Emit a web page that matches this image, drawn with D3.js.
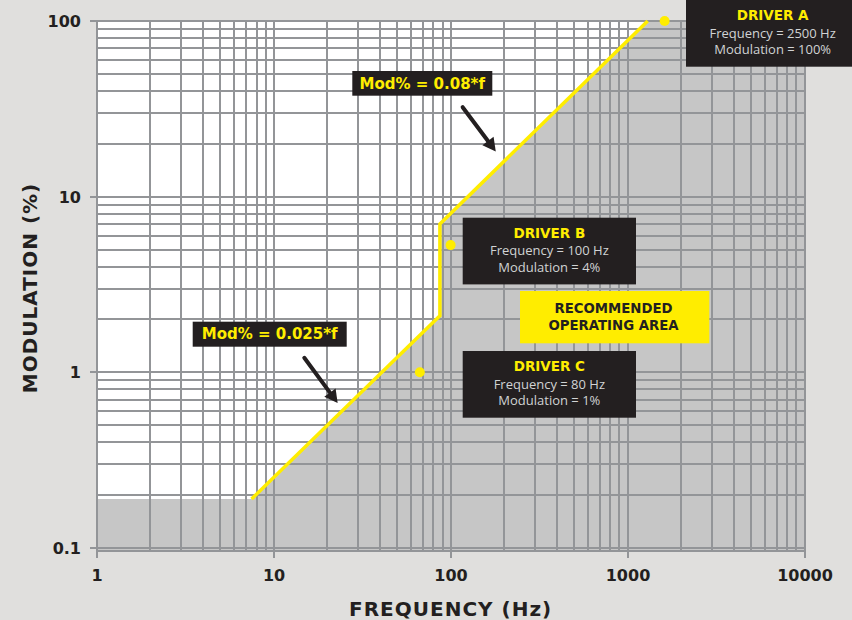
<!DOCTYPE html>
<html>
<head>
<meta charset="utf-8">
<script src="https://cdn.jsdelivr.net/npm/d3@7"></script>
<style>
  html, body { margin: 0; padding: 0; background: #e0dfdd; }
  svg { display: block; }
</style>
</head>
<body>
<svg id="chart" width="852" height="620"></svg>
<script>
// ---------- data ----------
const xTickValues = [1, 10, 100, 1000, 10000];
const xTickLabels = ["1", "10", "100", "1000", "10000"];
const yTickValues = [0.1, 1, 10, 100];
const yTickLabels = ["0.1", "1", "10", "100"];

// yellow limit line (frequency Hz, modulation %)
const limitFreq = [7.5, 87, 87, 1300];
const limitMod  = [0.19, 2.1, 7.0, 100];

// driver points as drawn
const driverNames = ["DRIVER A", "DRIVER B", "DRIVER C"];
const driverFreq = [1620, 100, 67];
const driverMod  = [100, 5.3, 1.0];
const driverLine1 = ["Frequency = 2500 Hz", "Frequency = 100 Hz", "Frequency = 80 Hz"];
const driverLine2 = ["Modulation = 100%", "Modulation = 4%", "Modulation = 1%"];

// formula annotations: arrow start / tip in data units
const formulaText = ["Mod% = 0.08*f", "Mod% = 0.025*f"];
const arrowFromF = [117, 14.9], arrowFromM = [32.3, 1.21];
const arrowToF   = [180, 23.0], arrowToM   = [18.1, 0.668];

const areaLabel = ["RECOMMENDED", "OPERATING AREA"];

// ---------- layout ----------
const W = 852, H = 620;
const pL = 96.7, pR = 804.5, pT = 21, pB = 548, frameBottom = 551;
const BG = "#e0dfdd", GRID = "#939598", FILL = "#c6c6c6", YEL = "#ffed00", DARK = "#231f20";
const BOLD = "'DejaVu Sans', sans-serif";
const BODY = "'Open Sans', 'Noto Sans', sans-serif";

const svg = d3.select("#chart");
svg.append("rect").attr("width", W).attr("height", H).attr("fill", BG);

const x = d3.scaleLog().domain([1, 10000]).range([pL, pR]);
const y = d3.scaleLog().domain([0.1, 100]).range([pB, pT]);
const snap = v => Math.round(v);

// plot background
svg.append("rect").attr("x", snap(pL)).attr("y", snap(pT))
  .attr("width", snap(pR) - snap(pL)).attr("height", frameBottom - snap(pT)).attr("fill", "#ffffff");

// shaded area below line
const limitPts = limitFreq.map((f, i) => [x(f), y(limitMod[i])]);
const shade = [[x(1), frameBottom], [x(1), y(limitMod[0])]]
  .concat(limitPts)
  .concat([[x(10000), y(100)], [x(10000), frameBottom]]);
svg.append("path").attr("d", "M" + shade.map(p => p.join(",")).join("L") + "Z").attr("fill", FILL);

// grid
const g = svg.append("g").attr("stroke", GRID).attr("stroke-width", 2).attr("fill", "none")
  .attr("shape-rendering", "crispEdges");
const xGrid = [];
for (let d = 1; d < 10000; d *= 10) for (let k = 1; k < 10; k++) xGrid.push(d * k);
xGrid.push(10000);
const yGrid = [];
for (let d = 0.1; d < 100; d *= 10) for (let k = 1; k < 10; k++) yGrid.push(+(d * k).toPrecision(3));
yGrid.push(100);

g.selectAll(".hg").data(yGrid).join("line")
  .attr("x1", snap(pL)).attr("x2", snap(pR)).attr("y1", d => snap(y(d))).attr("y2", d => snap(y(d)));
g.append("line").attr("x1", snap(pL)).attr("x2", snap(pR)).attr("y1", frameBottom).attr("y2", frameBottom);
g.selectAll(".vg").data(xGrid).join("line")
  .attr("x1", d => snap(x(d))).attr("x2", d => snap(x(d))).attr("y1", snap(pT) - 1).attr("y2", frameBottom);

// axes ticks via d3 axes
const xAxis = d3.axisBottom(x).tickValues(xTickValues).tickSize(7).tickPadding(12)
  .tickFormat((d, i) => xTickLabels[i]);
const yAxis = d3.axisLeft(y).tickValues(yTickValues).tickSize(7).tickPadding(9)
  .tickFormat((d, i) => yTickLabels[i]);

const gx = svg.append("g").attr("transform", `translate(0,${frameBottom})`).call(xAxis);
const gy = svg.append("g").attr("transform", `translate(${snap(pL)},0)`).call(yAxis);
[gx, gy].forEach(a => {
  a.select(".domain").remove();
  a.selectAll(".tick line").attr("stroke", GRID).attr("stroke-width", 2).attr("shape-rendering", "crispEdges");
  a.selectAll(".tick text").attr("fill", DARK).attr("font-family", BOLD)
    .attr("font-weight", "bold").attr("font-size", 16);
});
gx.selectAll(".tick").attr("transform", d => `translate(${snap(x(d))},0)`);
gy.selectAll(".tick").attr("transform", d => `translate(0,${snap(y(d))})`);
gy.selectAll(".tick text").attr("dy", "0.36em");
gx.selectAll(".tick text").attr("dy", "0.71em");
// left axis line extension
svg.append("line").attr("x1", snap(pL)).attr("x2", snap(pL)).attr("y1", snap(pT) - 1).attr("y2", frameBottom + 7)
  .attr("stroke", GRID).attr("stroke-width", 2).attr("shape-rendering", "crispEdges");

// axis titles
svg.append("text").attr("x", (pL + pR) / 2).attr("y", 616).attr("text-anchor", "middle")
  .attr("font-family", BOLD).attr("font-weight", "bold").attr("font-size", 20)
  .attr("letter-spacing", 1).attr("fill", DARK).text("FREQUENCY (Hz)");
svg.append("text").attr("transform", "translate(37,288) rotate(-90)").attr("text-anchor", "middle")
  .attr("font-family", BOLD).attr("font-weight", "bold").attr("font-size", 20)
  .attr("letter-spacing", 1).attr("fill", DARK).text("MODULATION (%)");

// yellow limit line
svg.append("path").attr("d", d3.line()(limitPts)).attr("fill", "none")
  .attr("stroke", YEL).attr("stroke-width", 3.5).attr("stroke-linejoin", "miter");

// driver dots
svg.selectAll(".dot").data(driverFreq).join("circle")
  .attr("cx", d => x(d)).attr("cy", (d, i) => y(driverMod[i])).attr("r", 5).attr("fill", YEL);

// driver boxes
const boxPos = [[686, 0], [462.7, 217.7], [462.7, 351]];
const boxW = 173.3, boxH = 66.7;
driverNames.forEach((name, i) => {
  const [bx, by] = boxPos[i];
  const bg = svg.append("g");
  bg.append("rect").attr("x", bx).attr("y", by).attr("width", boxW).attr("height", boxH).attr("fill", DARK);
  const cx = bx + boxW / 2;
  bg.append("text").attr("x", cx).attr("y", by + 20).attr("text-anchor", "middle")
    .attr("font-family", BOLD).attr("font-weight", "bold").attr("font-size", 13.5)
    .attr("fill", YEL).text(name);
  bg.append("text").attr("x", cx).attr("y", by + 37.5).attr("text-anchor", "middle")
    .attr("font-family", BODY).attr("font-size", 13).attr("fill", "#d1d3d4").text(driverLine1[i]);
  bg.append("text").attr("x", cx).attr("y", by + 54.3).attr("text-anchor", "middle")
    .attr("font-family", BODY).attr("font-size", 13).attr("fill", "#d1d3d4").text(driverLine2[i]);
});

// recommended area label
svg.append("rect").attr("x", 520).attr("y", 291).attr("width", 189.3).attr("height", 52.3).attr("fill", YEL);
areaLabel.forEach((t, i) => {
  svg.append("text").attr("x", 613.5).attr("y", 313.3 + i * 16.7).attr("text-anchor", "middle")
    .attr("font-family", BOLD).attr("font-weight", "bold").attr("font-size", 13.3)
    .attr("fill", DARK).text(t);
});

// formula labels
const fBox = [[352.3, 71, 140, 24.7], [192.7, 321.7, 154, 25]];
formulaText.forEach((t, i) => {
  const [bx, by, bw, bh] = fBox[i];
  svg.append("rect").attr("x", bx).attr("y", by).attr("width", bw).attr("height", bh).attr("fill", DARK);
  svg.append("text").attr("x", bx + bw / 2).attr("y", by + 17.5).attr("text-anchor", "middle")
    .attr("font-family", BOLD).attr("font-weight", "bold").attr("font-size", 15)
    .attr("fill", YEL).text(t);
});

// arrows
arrowFromF.forEach((f, i) => {
  const x0 = x(f), y0 = y(arrowFromM[i]);
  const x1 = x(arrowToF[i]), y1 = y(arrowToM[i]);
  const ang = Math.atan2(y1 - y0, x1 - x0);
  const headL = 13, headW = 7;
  const bx = x1 - headL * Math.cos(ang), by = y1 - headL * Math.sin(ang);
  svg.append("line").attr("x1", x0).attr("y1", y0).attr("x2", bx).attr("y2", by)
    .attr("stroke", DARK).attr("stroke-width", 4).attr("stroke-linecap", "round");
  const px = -Math.sin(ang), py = Math.cos(ang);
  const head = [[x1, y1], [bx + px * headW, by + py * headW], [bx - px * headW, by - py * headW]];
  svg.append("path").attr("d", "M" + head.map(p => p.join(",")).join("L") + "Z").attr("fill", DARK);
});
</script>
</body>
</html>
